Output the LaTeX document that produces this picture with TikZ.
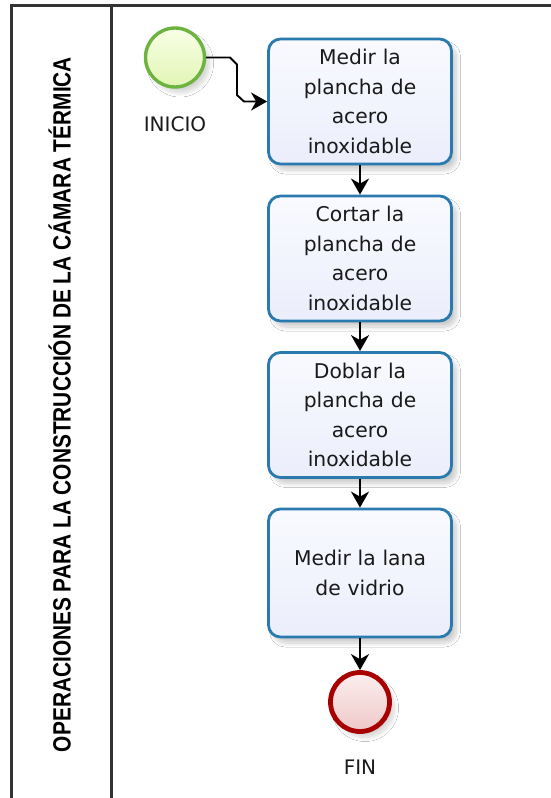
\documentclass[tikz,border=0pt]{standalone}
\usepackage{fontspec}
\setmainfont{DejaVu Sans}
\newfontfamily\lanefont{Liberation Sans}
\usetikzlibrary{arrows.meta,shadows.blur}
\definecolor{boxblue}{HTML}{2A7AB0}
\definecolor{boxtop}{HTML}{F9FAFF}
\definecolor{boxbot}{HTML}{EBEEFB}
\definecolor{startgreen}{HTML}{6DB33F}
\definecolor{starttop}{HTML}{F8FFE6}
\definecolor{startbot}{HTML}{E2F5B5}
\definecolor{endred}{HTML}{A80000}
\definecolor{endtop}{HTML}{FCEEEE}
\definecolor{endbot}{HTML}{EFC8C8}
\definecolor{txt}{HTML}{1A1A1A}
\definecolor{frame}{HTML}{333333}
\tikzset{
  task/.style={draw=boxblue, line width=2.8pt, rounded corners=12pt,
    top color=boxtop, bottom color=boxbot,
    minimum width=183pt, minimum height=125pt, inner sep=0pt,
    align=center, text width=176pt, text=txt,
    font=\fontsize{20.3}{29.5}\selectfont,
    blur shadow={shadow xshift=5pt, shadow yshift=-6pt, shadow opacity=20, shadow blur steps=12, shadow blur radius=4pt}},
  startev/.style={circle, draw=startgreen, line width=3.4pt, minimum size=59pt, inner sep=0pt,
    top color=starttop, bottom color=startbot,
    blur shadow={shadow xshift=5pt, shadow yshift=-6pt, shadow opacity=16, shadow blur steps=12, shadow blur radius=4pt}},
  endev/.style={circle, draw=endred, line width=4.8pt, minimum size=59pt, inner sep=0pt,
    top color=endtop, bottom color=endbot,
    blur shadow={shadow xshift=5pt, shadow yshift=-6pt, shadow opacity=16, shadow blur steps=12, shadow blur radius=4pt}},
  evlabel/.style={text=txt, font=\fontsize{20}{24}\selectfont, inner sep=0pt},
  flow/.style={line width=1.9pt, draw=black, -{Stealth[length=16pt, width=18pt, inset=5pt]}},
  laneline/.style={draw=frame, line width=3pt}
}
\begin{document}
\begin{tikzpicture}[x=1pt,y=-1pt]
\useasboundingbox (0,0) rectangle (550,798);
\fill[white] (0,0) rectangle (550,798);
% frame
\draw[laneline] (551,5) -- (11.5,5) -- (11.5,799);
\draw[laneline] (111.5,5) -- (111.5,799);
\node[rotate=90, anchor=base, inner sep=0pt] (lanetitle) at (70.5,404.5)
  {\resizebox{695pt}{\height}{\lanefont\bfseries\fontsize{25}{28}\selectfont OPERACIONES PARA LA CONSTRUCCIÓN DE LA CÁMARA TÉRMICA}};
% events
\node[startev] (start) at (175,57.5) {};
\node[evlabel, anchor=center] (startlbl) at (175,124) {INICIO};
\node[endev] (fin) at (360,702) {};
\node[evlabel, anchor=center] (finlbl) at (360,767) {FIN};
% tasks
\node[task] (t1) at (360,101.5) {Medir la\\plancha de\\acero\\inoxidable};
\node[task] (t2) at (360,258.5) {Cortar la\\plancha de\\acero\\inoxidable};
\node[task] (t3) at (360,415) {Doblar la\\plancha de\\acero\\inoxidable};
\node[task, minimum height=128pt] (t4) at (360,573) {Medir la lana\\de vidrio};
% flows
\draw[flow] (start.east) -- (230,57.5) -- (237,64.5) -- (237,95) -- (244,101.5) -- (t1.west);
\draw[flow] (t1.south) -- (t2.north);
\draw[flow] (t2.south) -- (t3.north);
\draw[flow] (t3.south) -- (t4.north);
\draw[flow] (t4.south) -- (fin.north);
\end{tikzpicture}
\end{document}
